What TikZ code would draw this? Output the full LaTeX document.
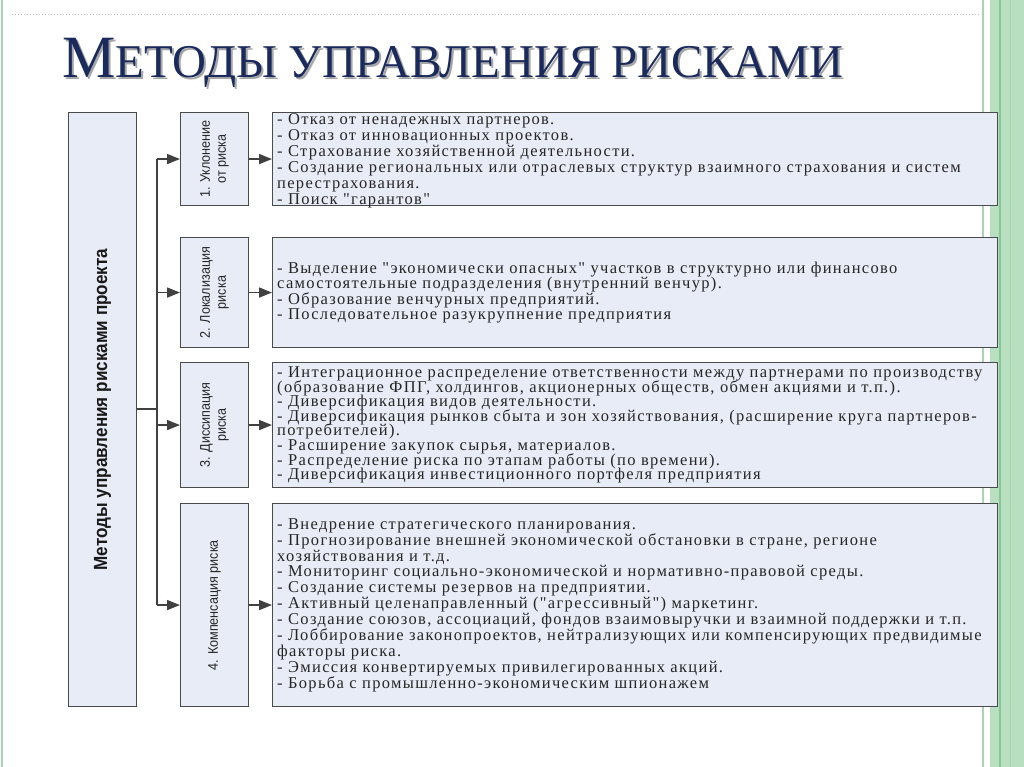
\documentclass[tikz,border=0pt]{standalone}
\usepackage{fontspec}
\setmainfont{Liberation Serif}
\setsansfont{Liberation Sans}
\usetikzlibrary{arrows.meta}
\definecolor{boxfill}{HTML}{E8ECF6}
\definecolor{boxline}{HTML}{4A4A4A}
\definecolor{navy}{HTML}{1A2A5C}
\definecolor{gline}{HTML}{A9D6B2}
\definecolor{gband}{HTML}{B8DFC0}
\definecolor{gdark}{HTML}{88C597}
\newfontfamily\descfont[LetterSpace=8]{Liberation Serif}
\newcommand{\titletext}{\fontsize{60}{60}\selectfont М\fontsize{47}{47}\selectfont ЕТОДЫ УПРАВЛЕНИЯ РИСКАМИ}
\newcommand{\descsize}[1]{\descfont\fontsize{16.5}{#1}\selectfont\lineskiplimit=-30pt\lineskip=0pt}
\newcommand{\catline}[1]{\scalebox{0.9}[1]{#1}}
\begin{document}
\begin{tikzpicture}[x=1pt,y=-1pt,
  box/.style={draw=boxline, fill=boxfill, line width=1.1pt, anchor=north west, inner sep=0pt},
  conn/.style={draw=black!75, line width=1.6pt},
  arr/.style={conn, -{Triangle[length=13pt,width=10pt]}},
  desc/.style={anchor=west, align=left, text=black!85, inner sep=0pt},
  cat/.style={rotate=90, align=center, font=\sffamily\fontsize{14}{16}\selectfont, text=black!85},
]
\useasboundingbox (0,0) rectangle (1024,767);
\fill[white] (0,0) rectangle (1024,767);
% decorative frame
\draw[gline, line width=2pt] (2,0) -- (2,767);
\draw[black!25, dotted, line width=1pt] (12,15) -- (980,15);
\fill[gband] (990,0) rectangle (1024,767);
\draw[gline, line width=1.5pt] (983,0) -- (983,767);
\draw[gdark, line width=2pt] (1000,0) -- (1000,767);
\draw[gline, line width=1pt] (1010,0) -- (1010,767);
% title
\node[anchor=base west, inner sep=0pt, text=black!35] (titleshadow) at (64,80) {\titletext};
\node[anchor=base west, inner sep=0pt, text=navy] (title) at (62,78) {\titletext};
% boxes
\node[box, minimum width=68pt, minimum height=594pt] (main) at (68,112) {};
\node[rotate=90, font=\sffamily\bfseries\fontsize{19}{19}\selectfont, text=black!90] (maintext) at (main.center) {\scalebox{0.9}[1]{Методы управления рисками проекта}};
\node[box, minimum width=68pt, minimum height=93pt] (c1) at (180,112) {};
\node[box, minimum width=68pt, minimum height=110pt] (c2) at (180,237) {};
\node[box, minimum width=68pt, minimum height=125pt] (c3) at (180,362) {};
\node[box, minimum width=68pt, minimum height=203pt] (c4) at (180,503) {};
\node[cat] (t1) at (c1.center) {\catline{1. Уклонение}\\\catline{от риска}};
\node[cat] (t2) at (c2.center) {\catline{2. Локализация}\\\catline{риска}};
\node[cat] (t3) at (c3.center) {\catline{3. Диссипация}\\\catline{риска}};
\node[cat] (t4) at (c4.center) {\catline{4. Компенсация риска}};
\node[box, minimum width=725pt, minimum height=93pt] (d1) at (272,112) {};
\node[box, minimum width=725pt, minimum height=110pt] (d2) at (272,237) {};
\node[box, minimum width=725pt, minimum height=125pt] (d3) at (272,362) {};
\node[box, minimum width=725pt, minimum height=203pt] (d4) at (272,503) {};
% connectors
\coordinate (j) at (157,409);
\draw[conn] (main.east |- j) -- (j);
\draw[conn] (c1.west -| j) -- (c4.west -| j);
\draw[arr] (c1.west -| j) -- (c1.west);
\draw[arr] (c2.west -| j) -- (c2.west);
\draw[arr] (c3.west -| j) -- (c3.west);
\draw[arr] (c4.west -| j) -- (c4.west);
\draw[arr] (c1.east) -- (d1.west);
\draw[arr] (c2.east) -- (d2.west);
\draw[arr] (c3.east) -- (d3.west);
\draw[arr] (c4.east) -- (d4.west);
% descriptions
\node[desc, font=\descsize{16}] (x1) at ([xshift=5pt,yshift=-2pt]d1.west) {- Отказ от ненадежных партнеров.\\
- Отказ от инновационных проектов.\\
- Страхование хозяйственной деятельности.\\
- Создание региональных или отраслевых структур взаимного страхования и систем\\
перестрахования.\\
- Поиск "гарантов"};
\node[desc, font=\descsize{15.5}] (x2) at ([xshift=5pt]d2.west) {- Выделение "экономически опасных" участков в структурно или финансово\\
самостоятельные подразделения (внутренний венчур).\\
- Образование венчурных предприятий.\\
- Последовательное разукрупнение предприятия};
\node[desc, font=\descsize{14.6}] (x3) at ([xshift=5pt]d3.west) {- Интеграционное распределение ответственности между партнерами по производству\\
(образование ФПГ, холдингов, акционерных обществ, обмен акциями и т.п.).\\
- Диверсификация видов деятельности.\\
- Диверсификация рынков сбыта и зон хозяйствования, (расширение круга партнеров-\\
потребителей).\\
- Расширение закупок сырья, материалов.\\
- Распределение риска по этапам работы (по времени).\\
- Диверсификация инвестиционного портфеля предприятия};
\node[desc, font=\descsize{15.9}] (x4) at ([xshift=5pt]d4.west) {- Внедрение стратегического планирования.\\
- Прогнозирование внешней экономической обстановки в стране, регионе\\
хозяйствования и т.д.\\
- Мониторинг социально-экономической и нормативно-правовой среды.\\
- Создание системы резервов на предприятии.\\
- Активный целенаправленный ("агрессивный") маркетинг.\\
- Создание союзов, ассоциаций, фондов взаимовыручки и взаимной поддержки и т.п.\\
- Лоббирование законопроектов, нейтрализующих или компенсирующих предвидимые\\
факторы риска.\\
- Эмиссия конвертируемых привилегированных акций.\\
- Борьба с промышленно-экономическим шпионажем};
\end{tikzpicture}
\end{document}
